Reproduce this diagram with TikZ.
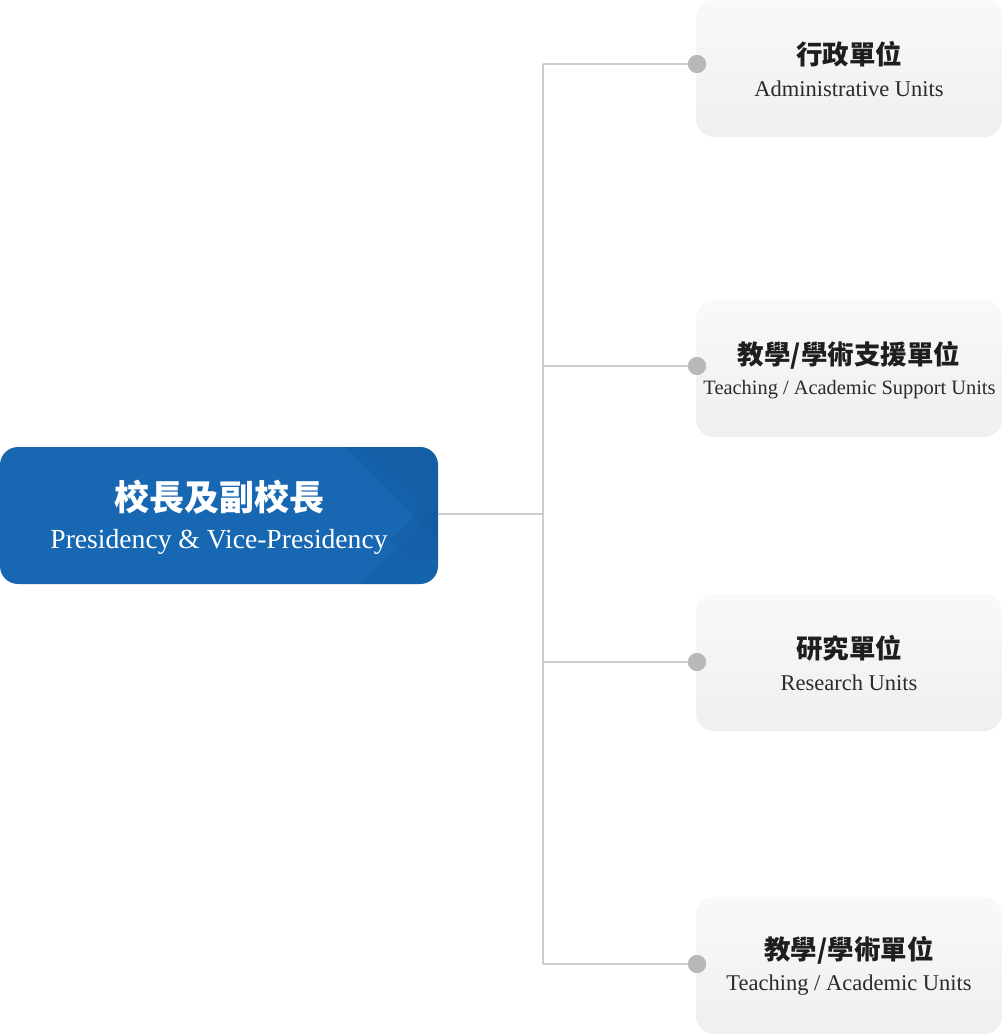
\documentclass[tikz,border=0pt]{standalone}
\usepackage{fontspec}
\setmainfont{Liberation Serif}
\newfontfamily\cjk{Noto Sans CJK TC}
\definecolor{presblue}{HTML}{1767B2}
\definecolor{presdark}{HTML}{12579A}
\definecolor{boxtop}{HTML}{F9F9FA}
\definecolor{boxbot}{HTML}{EFEFF1}
\definecolor{linegray}{HTML}{CCCCCC}
\definecolor{dotgray}{HTML}{B8B8B8}
\definecolor{cjktext}{HTML}{1E1E1E}
\definecolor{entext}{HTML}{2A2A2A}
\begin{document}
\begin{tikzpicture}[x=1pt,y=-1pt,
  unitbox/.style={rounded corners=18pt, minimum width=306pt, minimum height=137pt,
    inner sep=0pt, top color=boxtop, bottom color=boxbot, draw=none},
  presbox/.style={rounded corners=18pt, minimum width=438pt, minimum height=137pt,
    inner sep=0pt, fill=presblue, draw=none},
  cjklab/.style={font=\cjk\bfseries\fontsize{26.5}{30}\selectfont, text=cjktext, inner sep=0pt},
  enlab/.style={font=\fontsize{22.5}{26}\selectfont, text=entext, inner sep=0pt},
  conn/.style={draw=linegray, line width=1.2pt},
  dot/.style={circle, fill=dotgray, minimum size=18pt, inner sep=0pt, draw=none}]
\useasboundingbox (0,0) rectangle (1002,1035);

% president box
\node[presbox] (pres) at (219,515.5) {};
\begin{scope}
  \clip[rounded corners=18pt] (0,447) rectangle (438,584);
  \fill[presdark, opacity=0.35] (300,447) -- (438,447) -- (438,540) -- (345,447) -- cycle;
  \fill[presdark, opacity=0.25] (340,447) -- (438,447) -- (438,560) -- (410,560) -- (390,540) -- (425,505) -- (365,447) -- cycle;
  \fill[presdark, opacity=0.2] (360,584) -- (438,584) -- (438,505) -- (400,545) -- cycle;
\end{scope}
\node[font=\cjk\bfseries\fontsize{35}{38}\selectfont, text=white, inner sep=0pt] (pzh) at (219,497) {校長及副校長};
\node[font=\fontsize{27.6}{31}\selectfont, text=white, inner sep=0pt] (pen) at (219,542) {Presidency \& Vice-Presidency};

% unit boxes
\node[unitbox] (u1) at (849,68.5) {};
\node[unitbox] (u2) at (849,368.5) {};
\node[unitbox] (u3) at (849,662.5) {};
\node[unitbox] (u4) at (849,965.5) {};

\node[cjklab] (u1zh) at (849,54) {行政單位};
\node[enlab] (u1en) at (849,88.5) {Administrative Units};
\node[cjklab] (u2zh) at (849,355) {教學/學術支援單位};
\node[enlab, font=\fontsize{20.4}{24}\selectfont] (u2en) at (849.5,389.5) {Teaching / Academic Support Units};
\node[cjklab] (u3zh) at (849,648) {研究單位};
\node[enlab] (u3en) at (849,682.5) {Research Units};
\node[cjklab] (u4zh) at (849,950) {教學/學術單位};
\node[enlab] (u4en) at (849,985.5) {Teaching / Academic Units};

% connectors
\coordinate (jtop) at (543,64);
\coordinate (jmid) at (543,514);
\coordinate (jbot) at (543,964);
\coordinate (j2) at (543,366);
\coordinate (j3) at (543,662);
\node[dot] (d1) at (697,64) {};
\node[dot] (d2) at (697,366) {};
\node[dot] (d3) at (697,662) {};
\node[dot] (d4) at (697,964) {};
\draw[conn] (pres.east |- jmid) -- (jmid);
\draw[conn] (jtop) -- (jbot);
\draw[conn] (jtop) -- (d1.center);
\draw[conn] (j2) -- (d2.center);
\draw[conn] (j3) -- (d3.center);
\draw[conn] (jbot) -- (d4.center);
\node[dot] at (d1) {};
\node[dot] at (d2) {};
\node[dot] at (d3) {};
\node[dot] at (d4) {};
\end{tikzpicture}
\end{document}
